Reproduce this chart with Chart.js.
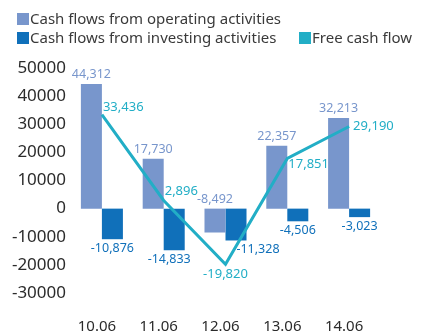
<!DOCTYPE html>
<html>
<head>
<meta charset="utf-8">
<script src="https://cdn.jsdelivr.net/npm/chart.js@4/dist/chart.umd.min.js"></script>
<style>
  body { margin: 0; background: #fff; }
  #wrap { position: relative; width: 427px; height: 334px; }
  #legend { position: absolute; left: 17px; top: 9px; width: 410px; font: 15px "Noto Sans", sans-serif; color: #3a3a3a; }
  .item { position: absolute; white-space: nowrap; line-height: 19px; }
  .item i { display: inline-block; width: 12px; height: 12px; margin-right: 1px; vertical-align: -1px; }
</style>
</head>
<body>
<div id="wrap">
  <canvas id="cf" width="427" height="334"></canvas>
  <div id="legend"></div>
</div>
<script>
const dates = ['10.06', '11.06', '12.06', '13.06', '14.06'];
const operating = [44312, 17730, -8492, 22357, 32213];
const investing = [-10876, -14833, -11328, -4506, -3023];
const freeCash = [33436, 2896, -19820, 17851, 29190];
const seriesNames = ['Cash flows from operating activities', 'Cash flows from investing activities', 'Free cash flow'];
const colors = ['#7896cc', '#1070ba', '#22aec6'];

// legend rows: [left, top] per item
const legendSpots = [[0, 0], [0, 19], [282, 19]];
const legend = document.getElementById('legend');
seriesNames.forEach((name, i) => {
    const d = document.createElement('div');
    d.className = 'item';
    d.style.left = legendSpots[i][0] + 'px';
    d.style.top = legendSpots[i][1] + 'px';
    d.innerHTML = `<i style="background:${colors[i]}"></i>${name}`;
    legend.appendChild(d);
});

const fmt = v => v.toLocaleString('en-US');

// value labels drawn next to bars and line points
const valueLabels = {
    id: 'valueLabels',
    afterDatasetsDraw(chart) {
        const ctx = chart.ctx;
        ctx.save();
        chart.data.datasets.forEach((ds, di) => {
            const meta = chart.getDatasetMeta(di);
            ctx.font = (di === 2 ? '13px' : '12.5px') + ' "Noto Sans", sans-serif';
            meta.data.forEach((el, i) => {
                const v = ds.data[i];
                ctx.fillStyle = ds.labelColor;
                if (di === 0) {
                    ctx.textAlign = 'center';
                    ctx.textBaseline = 'bottom';
                    ctx.fillText(fmt(v), el.x, Math.min(el.y, el.base) - 3);
                } else if (di === 1) {
                    const dx = [0, -5, 22, 0, 0][i];
                    ctx.textAlign = 'center';
                    ctx.textBaseline = 'top';
                    ctx.fillText(fmt(v), el.x + dx, Math.max(el.y, el.base) + 3);
                } else {
                    const p = [
                        { dx: 1, dy: -7, a: 'left' },
                        { dx: 1, dy: -9, a: 'left' },
                        { dx: 0, dy: 10, a: 'center' },
                        { dx: 1, dy: 6, a: 'left' },
                        { dx: 4, dy: 0, a: 'left' }
                    ][i];
                    ctx.textAlign = p.a;
                    ctx.textBaseline = 'middle';
                    ctx.fillText(fmt(v), el.x + p.dx, el.y + p.dy);
                }
            });
        });
        ctx.restore();
    }
};

new Chart(document.getElementById('cf'), {
    type: 'bar',
    data: {
        labels: dates,
        datasets: [
            { label: seriesNames[0], data: operating, backgroundColor: colors[0], labelColor: colors[0], order: 1 },
            { label: seriesNames[1], data: investing, backgroundColor: colors[1], labelColor: colors[1], order: 1 },
            { type: 'line', label: seriesNames[2], data: freeCash, borderColor: colors[2], labelColor: colors[2],
              borderWidth: 3, pointRadius: 0, tension: 0, order: 0 }
        ]
    },
    options: {
        responsive: false,
        animation: false,
        layout: { padding: { top: 68, right: 47, left: 0, bottom: 0 } },
        datasets: { bar: { barPercentage: 1, categoryPercentage: 0.68 } },
        plugins: { legend: { display: false }, tooltip: { enabled: false } },
        scales: {
            x: {
                grid: { display: false, drawTicks: false },
                border: { display: false },
                ticks: { color: '#2b2b2b', font: { family: 'Noto Sans', size: 15 }, padding: 25, labelOffset: -5 },
                afterFit: s => { s.height = 41; }
            },
            y: {
                min: -30000, max: 50000,
                grid: { display: false, drawTicks: false },
                border: { display: false },
                ticks: { stepSize: 10000, color: '#2b2b2b', font: { family: 'Noto Sans', size: 17 }, padding: 5,
                         callback: v => String(v) },
                afterFit: s => { s.width = 71; }
            }
        }
    },
    plugins: [valueLabels]
});
</script>
</body>
</html>
